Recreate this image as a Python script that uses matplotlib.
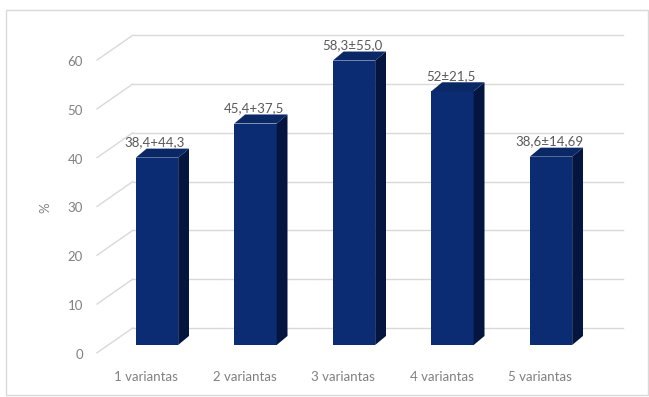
import matplotlib
matplotlib.use("Agg")
import matplotlib.pyplot as plt
import matplotlib.transforms as mtransforms
from matplotlib.patches import Polygon, Rectangle

# ── data ─────────────────────────────────────────────────────────────────────
categories = ["1 variantas", "2 variantas", "3 variantas", "4 variantas", "5 variantas"]
values     = [38.4, 45.4, 58.3, 52.0, 38.6]
labels     = ["38,4+44,3", "45,4+37,5", "58,3±55,0", "52±21,5", "38,6±14,69"]
yticks     = [0, 10, 20, 30, 40, 50, 60]

# ── style ────────────────────────────────────────────────────────────────────
FONT       = ["Lato", "DejaVu Sans"]
TXT_GRAY   = "#808080"
LBL_GRAY   = "#595959"
GRID       = "#d9d9d9"
FRONT      = "#0b2b72"
SIDE       = "#04163f"
TOP        = "#0a2766"
BAR_W      = 0.43          # front face width (category units)
DX, DY     = 0.11, 1.85    # bar depth offset (x units, y units)
BACK_DY    = 3.5           # back wall lift (y units)
BACK_X0    = 0.068         # back wall start (axes fraction)
LBL_DY     = 2.0           # tick-label plane drop (y units)

plt.rcParams["font.family"] = FONT

fig = plt.figure(figsize=(6.49, 3.97), dpi=100)
W, H = 649, 397
ax = fig.add_axes([97 / W, 52 / H, (623 - 97) / W, 322 / H])
ax.set_xlim(-0.609, 4.731)
ax.set_ylim(0, 66)
ax.axis("off")

# chart border
fig.patches.append(Rectangle((6 / W, 2 / H), 642 / W, 385 / H, transform=fig.transFigure,
                             fill=False, edgecolor="#d9d9d9", linewidth=1.0))

# back-wall gridlines + diagonal floor/wall connectors + tick labels
blend = mtransforms.blended_transform_factory(ax.transAxes, ax.transData)
for v in yticks:
    ax.plot([BACK_X0, 1.0], [v + BACK_DY, v + BACK_DY], transform=blend,
            color=GRID, linewidth=1.0, zorder=1, clip_on=False)
    ax.plot([0.0, BACK_X0], [v - LBL_DY + 0.4, v + BACK_DY], transform=blend,
            color=GRID, linewidth=1.0, zorder=1, clip_on=False)
    ax.text(-0.027, v - LBL_DY, str(v), transform=blend, ha="right", va="center",
            fontsize=9.5, color=TXT_GRAY)

# 3D-looking columns
for i, (val, lab) in enumerate(zip(values, labels)):
    x0, x1 = i - BAR_W / 2, i + BAR_W / 2
    ax.bar(i, val, width=BAR_W, color=FRONT, linewidth=0, zorder=3)
    ax.add_patch(Polygon([(x1, 0), (x1 + DX, DY), (x1 + DX, val + DY), (x1, val)],
                         closed=True, facecolor=SIDE, linewidth=0, zorder=3))
    ax.add_patch(Polygon([(x0, val), (x0 + DX, val + DY), (x1 + DX, val + DY), (x1, val)],
                         closed=True, facecolor=TOP, linewidth=0, zorder=3))
    ax.text(i - 0.02, val + DY + 1.3, lab, ha="center", va="center",
            fontsize=9.5, color=LBL_GRAY, zorder=4)
    ax.text(i - 0.11, -6.6, categories[i], ha="center", va="center",
            fontsize=9.5, color=TXT_GRAY, clip_on=False)

fig.text(45 / W, 1 - 208 / H, "%", rotation=90, ha="center", va="center",
         fontsize=9.5, color=TXT_GRAY)

fig.savefig("out.png", dpi=100)
